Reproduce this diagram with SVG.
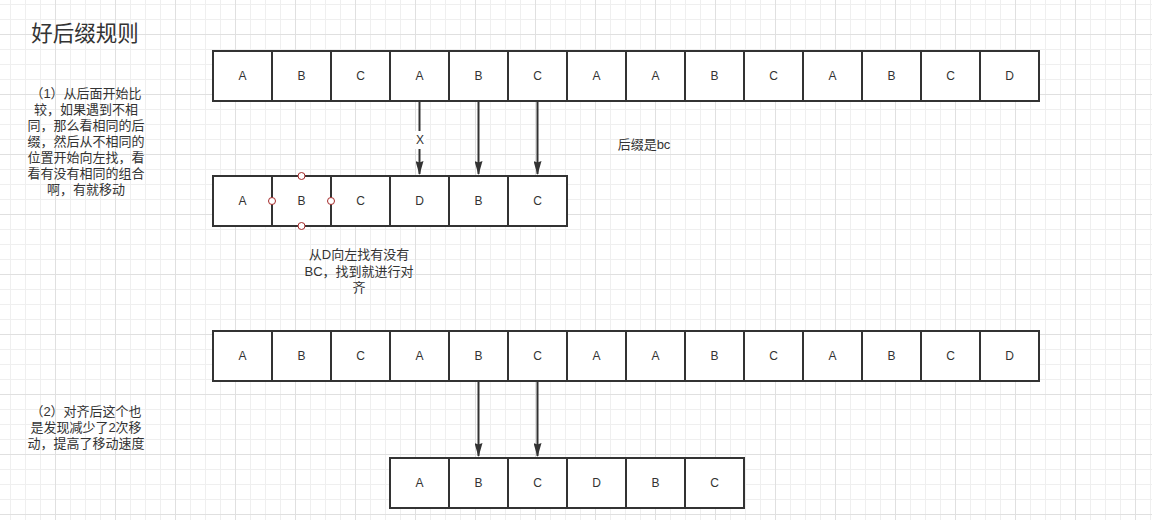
<svg xmlns="http://www.w3.org/2000/svg" width="1152" height="520" viewBox="0 0 1152 520">
<defs>
<pattern id="grid" patternUnits="userSpaceOnUse" x="-5" y="-26" width="60" height="60">
<path d="M15.5 0V60M30.5 0V60M45.5 0V60M0 15.5H60M0 30.5H60M0 45.5H60" stroke="#efefef" stroke-width="1" fill="none"/>
<path d="M0.5 0V60M0 0.5H60" stroke="#e0e0e0" stroke-width="1" fill="none"/>
</pattern>
<marker id="arr" viewBox="0 0 14 8" refX="13" refY="4" markerWidth="14" markerHeight="8" orient="auto" markerUnits="userSpaceOnUse">
<path d="M0 0L14 4L0 8L1.5 4Z" fill="#333"/>
</marker>
</defs>
<style>
.cell{fill:#fff;stroke:#333;stroke-width:2}
.lbl{font-family:'Liberation Sans','Noto Sans CJK SC',sans-serif;font-size:12px;fill:#333;text-anchor:middle}
.txt{font-family:'Liberation Sans','Noto Sans CJK SC',sans-serif;font-size:13px;fill:#333;text-anchor:middle}
.conn{stroke:#333;stroke-width:2;fill:none}
.pt{fill:#fff;stroke:#a52a2a;stroke-width:1}
</style>
<rect width="1152" height="520" fill="#fff"/>
<rect width="1152" height="520" fill="url(#grid)"/>

<g id="title"><text x="85" y="41" style="font-family:'Liberation Sans','Noto Sans CJK SC',sans-serif;font-size:21.5px;fill:#333;text-anchor:middle">好后缀规则</text></g>

<g id="note1">
<text class="txt" x="86" y="98">（1）从后面开始比</text>
<text class="txt" x="86" y="114">较，如果遇到不相</text>
<text class="txt" x="86" y="130">同，那么看相同的后</text>
<text class="txt" x="86" y="146">缀，然后从不相同的</text>
<text class="txt" x="86" y="162">位置开始向左找，看</text>
<text class="txt" x="86" y="178">看有没有相同的组合</text>
<text class="txt" x="86" y="194">啊，有就移动</text>
</g>

<g id="note2">
<text class="txt" x="86" y="416">（2）对齐后这个也</text>
<text class="txt" x="86" y="432">是发现减少了2次移</text>
<text class="txt" x="86" y="448">动，提高了移动速度</text>
</g>

<g id="note3">
<text class="txt" x="359" y="259">从D向左找有没有</text>
<text class="txt" x="359" y="276">BC，找到就进行对</text>
<text class="txt" x="359" y="292">齐</text>
</g>

<g id="note4"><text class="txt" x="644" y="149">后缀是bc</text></g>

<g id="row1">
<rect class="cell" x="213" y="51" width="59" height="50"/><text class="lbl" x="242.5" y="80">A</text>
<rect class="cell" x="272" y="51" width="59" height="50"/><text class="lbl" x="301.5" y="80">B</text>
<rect class="cell" x="331" y="51" width="59" height="50"/><text class="lbl" x="360.5" y="80">C</text>
<rect class="cell" x="390" y="51" width="59" height="50"/><text class="lbl" x="419.5" y="80">A</text>
<rect class="cell" x="449" y="51" width="59" height="50"/><text class="lbl" x="478.5" y="80">B</text>
<rect class="cell" x="508" y="51" width="59" height="50"/><text class="lbl" x="537.5" y="80">C</text>
<rect class="cell" x="567" y="51" width="59" height="50"/><text class="lbl" x="596.5" y="80">A</text>
<rect class="cell" x="626" y="51" width="59" height="50"/><text class="lbl" x="655.5" y="80">A</text>
<rect class="cell" x="685" y="51" width="59" height="50"/><text class="lbl" x="714.5" y="80">B</text>
<rect class="cell" x="744" y="51" width="59" height="50"/><text class="lbl" x="773.5" y="80">C</text>
<rect class="cell" x="803" y="51" width="59" height="50"/><text class="lbl" x="832.5" y="80">A</text>
<rect class="cell" x="862" y="51" width="59" height="50"/><text class="lbl" x="891.5" y="80">B</text>
<rect class="cell" x="921" y="51" width="59" height="50"/><text class="lbl" x="950.5" y="80">C</text>
<rect class="cell" x="980" y="51" width="59" height="50"/><text class="lbl" x="1009.5" y="80">D</text>
</g>

<g id="row2">
<rect class="cell" x="213" y="176" width="59" height="50"/><text class="lbl" x="242.5" y="205">A</text>
<rect class="cell" x="272" y="176" width="59" height="50"/><text class="lbl" x="301.5" y="205">B</text>
<rect class="cell" x="331" y="176" width="59" height="50"/><text class="lbl" x="360.5" y="205">C</text>
<rect class="cell" x="390" y="176" width="59" height="50"/><text class="lbl" x="419.5" y="205">D</text>
<rect class="cell" x="449" y="176" width="59" height="50"/><text class="lbl" x="478.5" y="205">B</text>
<rect class="cell" x="508" y="176" width="59" height="50"/><text class="lbl" x="537.5" y="205">C</text>
<circle class="pt" cx="301.5" cy="176" r="3.5"/>
<circle class="pt" cx="301.5" cy="226" r="3.5"/>
<circle class="pt" cx="272" cy="201" r="3.5"/>
<circle class="pt" cx="331" cy="201" r="3.5"/>
</g>

<g id="row3">
<rect class="cell" x="213" y="331" width="59" height="50"/><text class="lbl" x="242.5" y="360">A</text>
<rect class="cell" x="272" y="331" width="59" height="50"/><text class="lbl" x="301.5" y="360">B</text>
<rect class="cell" x="331" y="331" width="59" height="50"/><text class="lbl" x="360.5" y="360">C</text>
<rect class="cell" x="390" y="331" width="59" height="50"/><text class="lbl" x="419.5" y="360">A</text>
<rect class="cell" x="449" y="331" width="59" height="50"/><text class="lbl" x="478.5" y="360">B</text>
<rect class="cell" x="508" y="331" width="59" height="50"/><text class="lbl" x="537.5" y="360">C</text>
<rect class="cell" x="567" y="331" width="59" height="50"/><text class="lbl" x="596.5" y="360">A</text>
<rect class="cell" x="626" y="331" width="59" height="50"/><text class="lbl" x="655.5" y="360">A</text>
<rect class="cell" x="685" y="331" width="59" height="50"/><text class="lbl" x="714.5" y="360">B</text>
<rect class="cell" x="744" y="331" width="59" height="50"/><text class="lbl" x="773.5" y="360">C</text>
<rect class="cell" x="803" y="331" width="59" height="50"/><text class="lbl" x="832.5" y="360">A</text>
<rect class="cell" x="862" y="331" width="59" height="50"/><text class="lbl" x="891.5" y="360">B</text>
<rect class="cell" x="921" y="331" width="59" height="50"/><text class="lbl" x="950.5" y="360">C</text>
<rect class="cell" x="980" y="331" width="59" height="50"/><text class="lbl" x="1009.5" y="360">D</text>
</g>

<g id="row4">
<rect class="cell" x="390" y="458" width="59" height="50"/><text class="lbl" x="419.5" y="487">A</text>
<rect class="cell" x="449" y="458" width="59" height="50"/><text class="lbl" x="478.5" y="487">B</text>
<rect class="cell" x="508" y="458" width="59" height="50"/><text class="lbl" x="537.5" y="487">C</text>
<rect class="cell" x="567" y="458" width="59" height="50"/><text class="lbl" x="596.5" y="487">D</text>
<rect class="cell" x="626" y="458" width="59" height="50"/><text class="lbl" x="655.5" y="487">B</text>
<rect class="cell" x="685" y="458" width="59" height="50"/><text class="lbl" x="714.5" y="487">C</text>
</g>

<g id="connectors">
<line class="conn" x1="419.5" y1="102" x2="419.5" y2="174" marker-end="url(#arr)"/>
<line class="conn" x1="478.5" y1="102" x2="478.5" y2="174" marker-end="url(#arr)"/>
<line class="conn" x1="537.5" y1="102" x2="537.5" y2="174" marker-end="url(#arr)"/>
<line class="conn" x1="478.5" y1="382" x2="478.5" y2="456" marker-end="url(#arr)"/>
<line class="conn" x1="537.5" y1="382" x2="537.5" y2="456" marker-end="url(#arr)"/>
<rect x="413" y="131" width="13" height="18" fill="#fff"/>
<text class="lbl" x="420" y="144">X</text>
</g>
</svg>
